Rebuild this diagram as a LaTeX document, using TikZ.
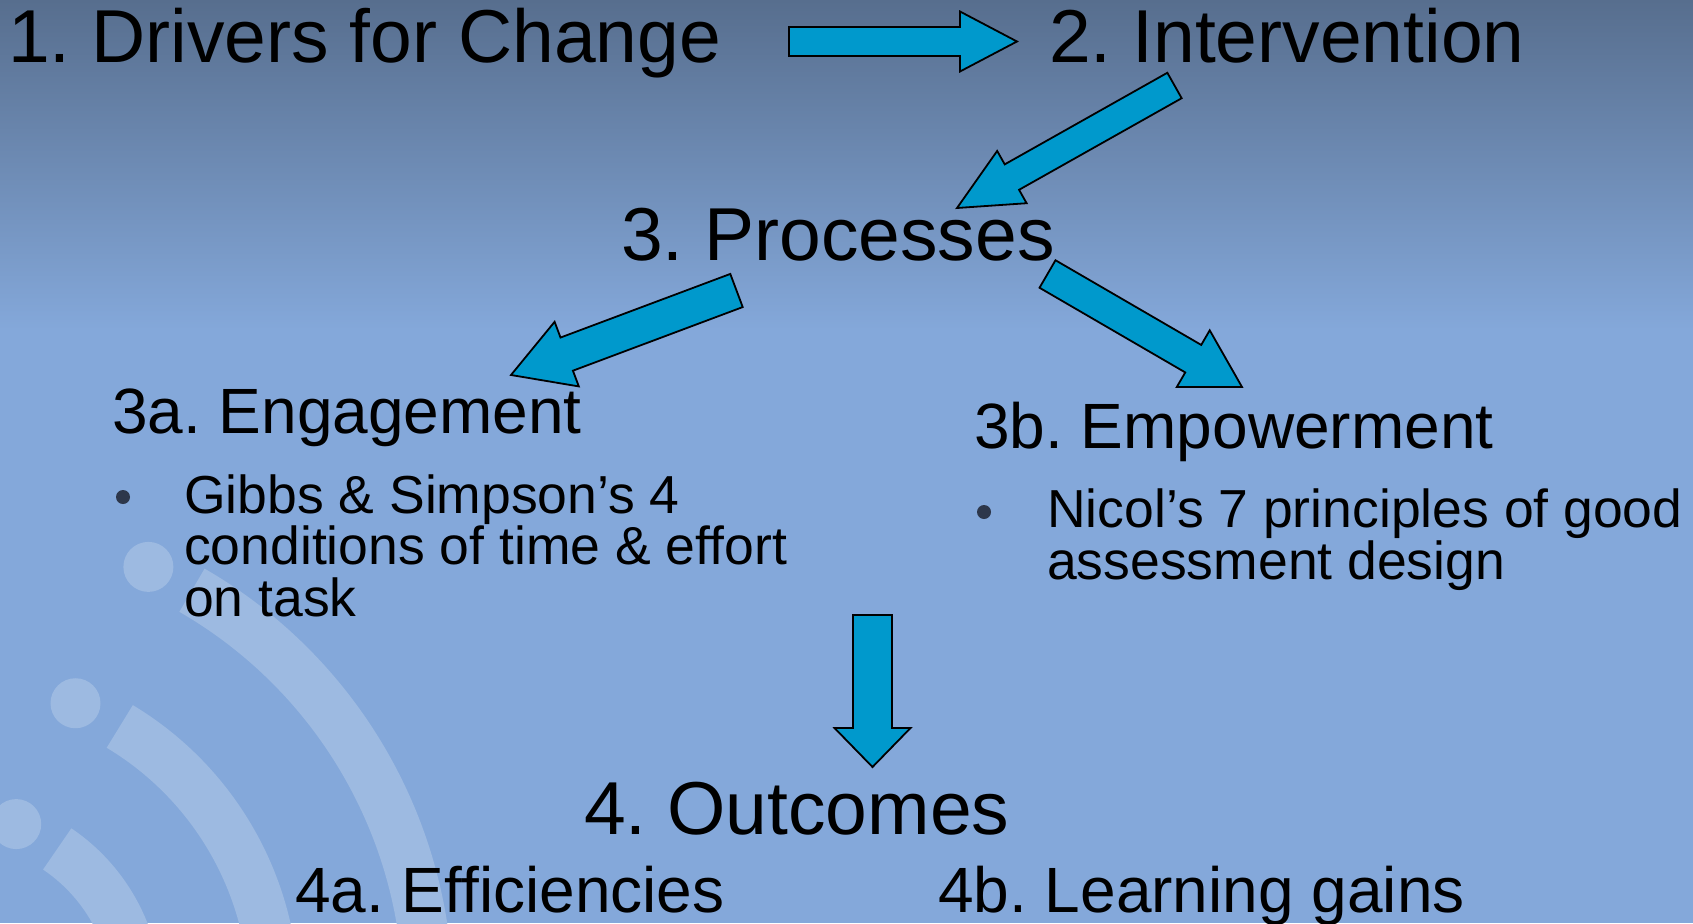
\documentclass[tikz,border=0pt]{standalone}
\usepackage{fontspec}
\setmainfont{Liberation Sans}
\usepackage{tikz}
\usepackage{xcolor}
\usetikzlibrary{calc}
\frenchspacing

\definecolor{bgtop}{RGB}{87,110,142}
\definecolor{bgmain}{RGB}{132,168,218}
\definecolor{decolight}{RGB}{157,186,225}
\definecolor{arrowblue}{RGB}{0,153,204}
\definecolor{bulletgray}{RGB}{45,55,75}

% block arrow: tail, tip, shaft half width, head half width, head length
\newcommand{\blockarrow}[5]{%
  \coordinate (ba-n) at ($(#2)!#5!(#1)$);
  \draw[fatarrow] ($(#1)!#3!90:(#2)$) -- ($(ba-n)!#3!-90:(#1)$) -- ($(ba-n)!#4!-90:(#1)$)
    -- (#2) -- ($(ba-n)!#4!90:(#1)$) -- ($(ba-n)!#3!90:(#1)$) -- ($(#1)!#3!-90:(#2)$) -- cycle;
}

\begin{document}
\begin{tikzpicture}[x=1pt, y=-1pt]
    \tikzstyle{heading} = [anchor=base west, inner sep=0pt, font=\fontsize{75}{75}\selectfont]
    \tikzstyle{subheading} = [anchor=base west, inner sep=0pt, font=\fontsize{64}{64}\selectfont]
    \tikzstyle{bullettext} = [anchor=base west, inner sep=0pt, align=left, font=\fontsize{53.5}{51.5}\selectfont]
    \tikzstyle{bulletdot} = [circle, fill=bulletgray, inner sep=0pt, minimum size=14pt]
    \tikzstyle{fatarrow} = [fill=arrowblue, draw=black, line width=1.8pt, line join=miter]
    \tikzstyle{band} = [decolight, line width=50pt]

    \useasboundingbox (0,0) rectangle (1693,923);
    \clip (0,0) rectangle (1693,923);
    \fill[bgmain] (0,0) rectangle (1693,923);
    \shade[top color=bgtop, bottom color=bgmain] (0,0) rectangle (1693,330);

    % background logo
    \coordinate (logo) at (-44,999);
    \draw[band] (logo) ++(60:472pt) arc[start angle=60, end angle=-5, radius=472pt];
    \draw[band] (logo) ++(59:318pt) arc[start angle=59, end angle=-5, radius=318pt];
    \draw[band] (logo) ++(56:181pt) arc[start angle=56, end angle=-5, radius=181pt];
    \fill[decolight] (logo) ++(66:473pt) circle[radius=25pt];
    \fill[decolight] (logo) ++(68:319pt) circle[radius=25pt];
    \fill[decolight] (logo) ++(71:185pt) circle[radius=25pt];

    \node[heading] (drivers) at (8,63) {1. Drivers for Change};
    \node[heading] (intervention) at (1049,63) {2. Intervention};
    \node[heading] (processes) at (621,260) {3. Processes};
    \node[subheading] (engagement) at (112,433) {3a. Engagement};
    \node[bulletdot] (dota) at (123,497) {};
    \node[bullettext] (gibbs) at (184,616) {Gibbs \& Simpson’s 4\\conditions of time \& effort\\on task};
    \node[subheading] (empowerment) at (974,448) {3b. Empowerment};
    \node[bulletdot] (dotb) at (984,512) {};
    \node[bullettext] (nicol) at (1047,579) {Nicol’s 7 principles of good\\assessment design};
    \node[heading] (outcomes) at (584,834) {4. Outcomes};
    \node[subheading] (efficiencies) at (295,912) {4a. Efficiencies};
    \node[subheading] (learning) at (938,912) {4b. Learning gains};

    \coordinate (a1s) at (789,41.5);
    \coordinate (a1e) at (1017,41.5);
    \coordinate (a2s) at (1174.5,85.5);
    \coordinate (a2e) at (957,208);
    \coordinate (a3s) at (736.5,290.5);
    \coordinate (a3e) at (511,375);
    \coordinate (a4s) at (1047.5,274);
    \coordinate (a4e) at (1242,387);
    \coordinate (a5s) at (872.5,615);
    \coordinate (a5e) at (872.5,767);

    \blockarrow{a1s}{a1e}{14.5pt}{30pt}{57pt}
    \blockarrow{a2s}{a2e}{14.6pt}{30pt}{63pt}
    \blockarrow{a3s}{a3e}{17.7pt}{34.5pt}{59.5pt}
    \blockarrow{a4s}{a4e}{15.9pt}{32.8pt}{56.4pt}
    \blockarrow{a5s}{a5e}{19.5pt}{38pt}{39pt}
\end{tikzpicture}
\end{document}
